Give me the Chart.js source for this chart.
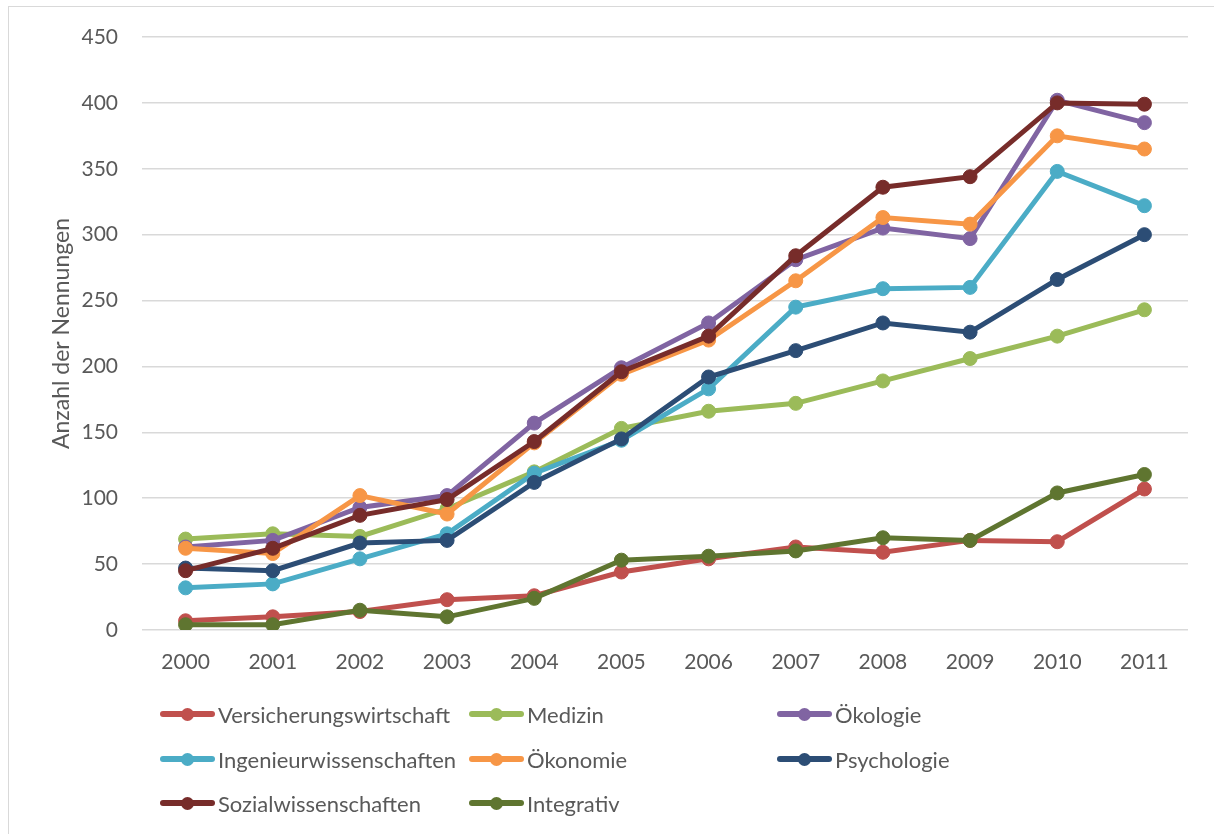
<!DOCTYPE html>
<html lang="de">
<head>
<meta charset="utf-8">
<title>Anzahl der Nennungen 2000–2011</title>
<script src="https://cdn.jsdelivr.net/npm/chart.js@4.4.1/dist/chart.umd.min.js"></script>
<style>
  html, body { margin: 0; padding: 0; background: #fff; }
  body { width: 1214px; height: 834px; position: relative; overflow: hidden; font-family: Lato, "Open Sans", sans-serif; }
  #frame { position: absolute; left: 8px; top: 6px; width: 1400px; height: 1000px; border: 1.5px solid #d9d9d9; box-sizing: border-box; }
  #wrap { position: absolute; left: 0; top: 0; width: 1214px; height: 834px; }
  #legend { position: absolute; left: 0; top: 0; width: 1214px; height: 834px; pointer-events: none; }
  .item { position: absolute; display: flex; align-items: center; height: 26px; color: #595959; font-size: 22px; white-space: nowrap; }
  .swatch { position: relative; width: 55px; height: 26px; margin-right: 3px; }
  .swatch .ln { position: absolute; left: 0; right: 0; top: 10px; height: 6px; border-radius: 3px; }
  .swatch .dot { position: absolute; left: 21px; top: 6.5px; width: 13px; height: 13px; border-radius: 50%; }
</style>
</head>
<body>
<div id="frame"></div>
<div id="wrap"><canvas id="chart" width="1214" height="834"></canvas></div>
<div id="legend"></div>
<script>
// Jahre (Kategorien)
const years = ['2000', '2001', '2002', '2003', '2004', '2005', '2006', '2007', '2008', '2009', '2010', '2011'];

// Anzahl der Nennungen je Fachgebiet
const versicherungswirtschaft = [7, 10, 14, 23, 26, 44, 54, 63, 59, 68, 67, 107];
const medizin                 = [69, 73, 71, 92, 120, 153, 166, 172, 189, 206, 223, 243];
const oekologie               = [63, 68, 93, 102, 157, 199, 233, 281, 305, 297, 402, 385];
const ingenieurwissenschaften = [32, 35, 54, 73, 119, 144, 183, 245, 259, 260, 348, 322];
const oekonomie               = [62, 58, 102, 88, 142, 194, 220, 265, 313, 308, 375, 365];
const psychologie             = [47, 45, 66, 68, 112, 145, 192, 212, 233, 226, 266, 300];
const sozialwissenschaften    = [45, 62, 87, 99, 143, 196, 223, 284, 336, 344, 400, 399];
const integrativ              = [4, 4, 15, 10, 24, 53, 56, 60, 70, 68, 104, 118];

// Y-Achse
const yTicks = [0, 50, 100, 150, 200, 250, 300, 350, 400, 450];

const series = [
  { label: 'Versicherungswirtschaft', data: versicherungswirtschaft, color: '#C0504D' },
  { label: 'Medizin',                 data: medizin,                 color: '#9BBB59' },
  { label: 'Ökologie',                data: oekologie,               color: '#8064A2' },
  { label: 'Ingenieurwissenschaften', data: ingenieurwissenschaften, color: '#4BACC6' },
  { label: 'Ökonomie',                data: oekonomie,               color: '#F79646' },
  { label: 'Psychologie',             data: psychologie,             color: '#2C4D75' },
  { label: 'Sozialwissenschaften',    data: sozialwissenschaften,    color: '#772C2A' },
  { label: 'Integrativ',              data: integrativ,              color: '#5F7530' }
];

const textColor = '#595959';
const family = 'Lato, "Open Sans", sans-serif';
const tickFont = { family, size: 21 };
const titleFont = { family, size: 23 };

const datasets = series.map((s, i) => ({
  label: s.label,
  data: s.data,
  borderColor: s.color,
  backgroundColor: s.color,
  pointBackgroundColor: s.color,
  pointBorderColor: s.color,
  borderWidth: 5,
  pointRadius: 7,
  pointBorderWidth: 1,
  pointHoverRadius: 7,
  tension: 0,
  // later series are painted above earlier ones
  order: series.length - i
}));

new Chart(document.getElementById('chart'), {
  type: 'line',
  data: { labels: years, datasets },
  options: {
    responsive: false,
    animation: false,
    layout: { padding: { top: 37, right: 26, bottom: 0, left: 0 } },
    plugins: { legend: { display: false }, tooltip: { enabled: false } },
    scales: {
      x: {
        offset: true,
        grid: { display: false, drawTicks: false },
        border: { display: false },
        ticks: { color: textColor, font: tickFont, padding: 20, maxRotation: 0 },
        afterFit(scale) { scale.height = 204; }
      },
      y: {
        min: 0,
        max: 450,
        afterBuildTicks(scale) { scale.ticks = yTicks.map(v => ({ value: v })); },
        grid: { color: '#d9d9d9', lineWidth: 1.5, drawTicks: false },
        border: { display: false },
        ticks: { color: textColor, font: tickFont, padding: 24 },
        title: { display: true, text: 'Anzahl der Nennungen', color: textColor, font: titleFont, padding: { top: 48, bottom: 0 } },
        afterFit(scale) { scale.width = 142; }
      }
    }
  }
});

// Legende in drei Spalten
const legendCols = [160, 469, 777];
const legendRows = [714, 759, 803];
const legend = document.getElementById('legend');
series.forEach((s, i) => {
  const item = document.createElement('div');
  item.className = 'item';
  item.style.left = legendCols[i % 3] + 'px';
  item.style.top = (legendRows[Math.floor(i / 3)] - 13) + 'px';
  item.innerHTML = '<span class="swatch"><span class="ln" style="background:' + s.color + '"></span>' +
    '<span class="dot" style="background:' + s.color + '"></span></span><span>' + s.label + '</span>';
  legend.appendChild(item);
});
</script>
</body>
</html>
